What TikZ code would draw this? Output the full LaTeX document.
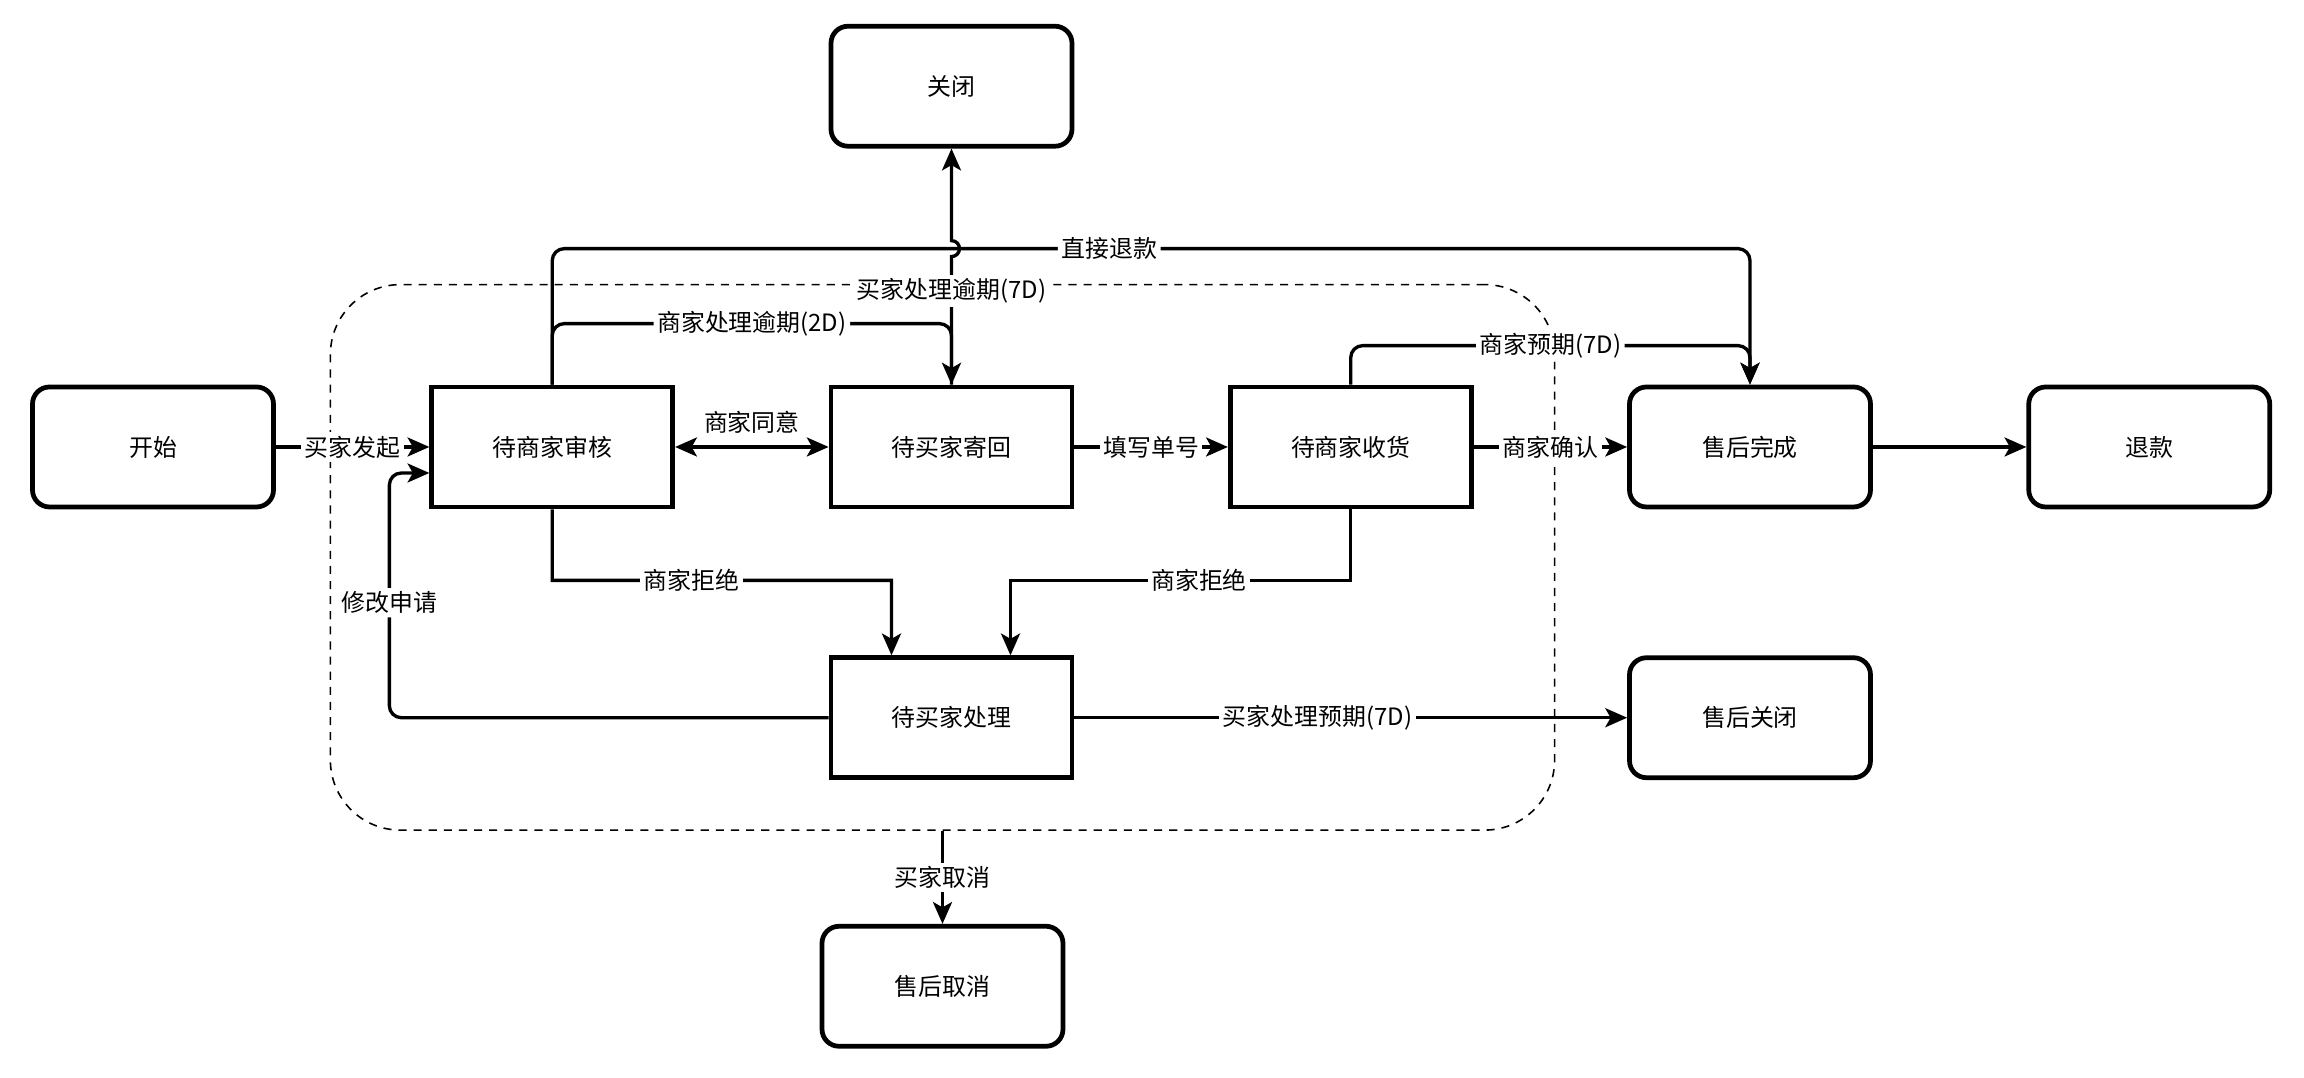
\documentclass[tikz,border=0pt]{standalone}
\usepackage{fontspec}
\setmainfont{Noto Sans CJK SC}
\usetikzlibrary{arrows.meta,positioning,fit,calc}

\begin{document}
\begin{tikzpicture}[
    >={Stealth[length=6.2pt, width=5.4pt, inset=1.5pt]},
    node distance=1.46cm and 1.535cm,
    font=\fontsize{6.8}{8}\selectfont,
    box/.style={draw, line width=1.35pt, align=center, minimum width=2.41cm, minimum height=1.2cm, inner sep=0pt},
    endbox/.style={box, rounded corners=0.17cm},
    lbl/.style={fill=white, inner sep=1pt},
    arr/.style={->, line width=0.95pt},
    grp/.style={draw, dash pattern=on 2.3pt off 2pt, line width=0.45pt, rounded corners=0.7cm, inner sep=0pt}
]
    \useasboundingbox (0,0) rectangle (23.04,10.78);
    \node[endbox] (start) at (1.53,6.31) {开始};
    \node[box, right=of start] (shen) {待商家审核};
    \node[box, right=of shen] (jihui) {待买家寄回};
    \node[box, right=of jihui] (shou) {待商家收货};
    \node[endbox, right=of shou] (done) {售后完成};
    \node[endbox, right=of done] (refund) {退款};
    \node[endbox, above=2.36cm of jihui] (close) {关闭};
    \node[box, below=of jihui] (chuli) {待买家处理};
    \node[endbox, below=of done] (shut) {售后关闭};

    % dashed group round the pending states
    \coordinate (g1) at ($(shen.north west)+(-0.99,1.0)$);
    \coordinate (g2) at ($(shou.east |- chuli.south)+(0.81,-0.5)$);
    \node[grp, fit=(g1)(g2)] (grp) {};
    \node[endbox, below=0.93cm of grp] (cancel) {售后取消};

    \draw[arr] (start) -- node[lbl]{买家发起} (shen);
    \draw[arr, <->] (shen) -- node[above]{商家同意} (jihui);
    \draw[arr] (jihui) -- node[lbl]{填写单号} (shou);
    \draw[arr] (shou) -- node[lbl]{商家确认} (done);
    \draw[arr] (done) -- (refund);
    \draw[arr] (chuli) -- node[lbl, pos=0.44]{买家处理预期(7D)} (shut);

    % over the top
    \coordinate (tk) at ($(shen.north)+(0,1.36)$);
    \draw[arr, rounded corners=0.12cm] (shen.north) -- (tk) -| node[lbl, pos=0.2325]{直接退款} (done.north);
    \draw[arr, rounded corners=0.12cm] (shen.north) |- node[lbl, pos=0.75]{商家处理逾期(2D)} ($(jihui.north)+(0,0.61)$) -- (jihui.north);
    \draw[arr, rounded corners=0.12cm] (shou.north) |- node[lbl, pos=0.75]{商家预期(7D)} ($(done.north)+(0,0.39)$) -- (done.north);
    \draw[arr] (jihui.north) -- node[lbl, pos=0.73]{买家处理逾期(7D)} ($(jihui.north |- tk)+(0,-0.08)$)
        arc[start angle=-90, end angle=90, radius=0.08] -- (close.south);

    % refusals and back
    \draw[arr] (shen.south) |- node[lbl, pos=0.705]{商家拒绝} ($(chuli.north)+(-0.6,0.75)$) -- ([xshift=-0.6cm]chuli.north);
    \draw[arr] (shou.south) |- node[lbl, pos=0.723]{商家拒绝} ($(chuli.north)+(0.59,0.75)$) -- ([xshift=0.59cm]chuli.north);
    \draw[arr, rounded corners=0.12cm] (chuli.west) -| node[lbl, pos=0.735]{修改申请} ($(shen.west)+(-0.4,-0.26)$) -- ([yshift=-0.26cm]shen.west);

    \draw[arr] (grp.south) -- node[lbl]{买家取消} (cancel.north);
\end{tikzpicture}
\end{document}
